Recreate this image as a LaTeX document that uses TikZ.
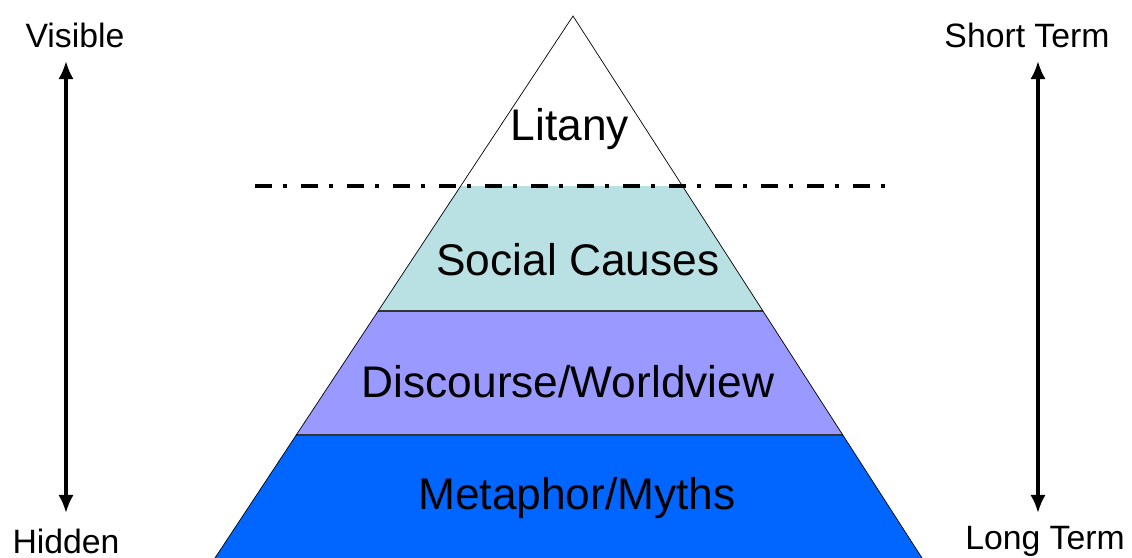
\documentclass[tikz,border=0pt]{standalone}
\usepackage{fontspec}
\setmainfont{Liberation Sans}
\usetikzlibrary{arrows.meta}
\usetikzlibrary{calc}
\definecolor{causes}{HTML}{B9E0E3}
\definecolor{worldview}{HTML}{9999FF}
\definecolor{myths}{HTML}{0066FF}
\tikzset{
	layer/.style={font=\fontsize{31.5}{34}\selectfont},
	side/.style={font=\fontsize{24}{27}\selectfont},
	axisarrow/.style={line width=2.2pt, {Latex[length=0.45cm,width=0.38cm]}-{Latex[length=0.45cm,width=0.38cm]}}
}

\begin{document}
\begin{tikzpicture}[x=0.025cm, y=-0.025cm]
				\useasboundingbox (0,0) rectangle (1132,558);
				\coordinate (apex) at (573,16);
				\coordinate (bl) at (215,558);
				\coordinate (br) at (922,558);
				% bands of the pyramid
				\foreach \t/\u/\c in {0.3137/0.5443/causes, 0.5443/0.7731/worldview, 0.7731/1/myths} {
					\draw[draw=none, fill=\c] ($(apex)!\t!(bl)$) -- ($(apex)!\t!(br)$)
						-- ($(apex)!\u!(br)$) -- ($(apex)!\u!(bl)$) -- cycle;
				}
				\foreach \t in {0.5443,0.7731} {
					\draw[line width=0.8pt, black!80] ($(apex)!\t!(bl)$) -- ($(apex)!\t!(br)$);
				}
				\draw[line width=0.5pt] (bl) -- (apex) -- (br);
				\draw[line width=2.5pt, dash pattern=on 0.425cm off 0.275cm on 0.1cm off 0.35cm] (255,186) -- (890,186);
				\node[layer] (litany) at (570,129) {Litany};
				\node[layer] (causes) at (578,260) {Social Causes};
				\node[layer] (discourse) at (568,382) {Discourse/Worldview};
				\node[layer] (metaphor) at (577,498) {Metaphor/Myths};
				\node[side] (visible) at (75,35) {Visible};
				\node[side] (hidden) at (66,541) {Hidden};
				\node[side] (short) at (1027,35) {Short Term};
				\node[side] (long) at (1045,541) {Long Term};
				\coordinate (vtop) at (66,61);
				\coordinate (vbot) at (66,513);
				\coordinate (ttop) at (1038,61);
				\coordinate (tbot) at (1038,513);
				\draw[axisarrow] (vtop) -- (vbot);
				\draw[axisarrow] (ttop) -- (tbot);
			\end{tikzpicture}
\end{document}
